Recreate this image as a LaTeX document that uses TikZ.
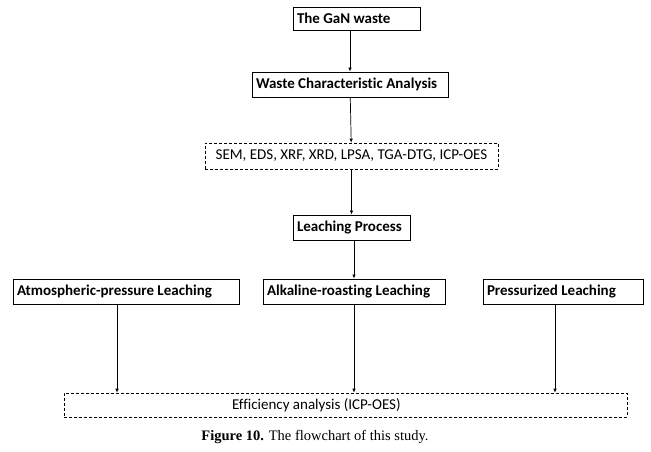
\documentclass[tikz,border=0pt]{standalone}
\usepackage{fontspec}
\setmainfont{Carlito}[Ligatures=NoCommon]
\newfontfamily\capfont{Liberation Serif}
\usepackage{tikz}
\usetikzlibrary{arrows.meta}
\tikzstyle{stepbox}=[rectangle,draw=black,line width=0.9pt,minimum height=25pt,inner xsep=4pt,inner ysep=2pt,align=flush left,font=\fontsize{15}{17}\selectfont\bfseries]
\tikzstyle{testbox}=[rectangle,draw=black,line width=0.6pt,dash pattern=on 3pt off 2pt,minimum height=26pt,inner sep=2pt,font=\fontsize{15}{17}\selectfont]
\tikzstyle{flow}=[line width=0.7pt,-{Latex[length=4pt,width=3.5pt]}]

\begin{document}
\begin{tikzpicture}[x=1pt,y=-1pt]
        \useasboundingbox (0,0) rectangle (651,452);
        \node at (356.5,18.5) [stepbox,text width=119pt,minimum height=23pt] (gan) {The GaN waste};
        \node at (350,84.5)   [stepbox,text width=188pt] (waste) {Waste Characteristic Analysis};
        \node at (351.5,156)  [testbox,minimum width=293pt] (sem) {SEM, EDS, XRF, XRD, LPSA, TGA-DTG, ICP-OES};
        \node at (351.5,227.5) [stepbox,text width=109pt] (leach) {Leaching Process};
        \node at (126,291.5)  [stepbox,text width=218pt] (atm) {Atmospheric-pressure Leaching};
        \node at (354,291.5)  [stepbox,text width=174pt] (alk) {Alkaline-roasting Leaching};
        \node at (563,291.5)  [stepbox,text width=152pt] (prs) {Pressurized Leaching};
        \node at (345.5,405)  [testbox,align=flush left,inner xsep=168pt,text width=227pt,minimum height=24pt] (eff) {Efficiency analysis (ICP-OES)};
        \node at (315,437) [font=\capfont\fontsize{14.5}{16}\selectfont] (cap) {\textbf{Figure 10.} The flowchart of this study.};

        \draw [flow] (gan.south -| waste.north) -- (waste.north);
        \draw [flow] (waste) -- (sem);
        \draw [flow] (sem) -- (leach);
        \draw [flow] (leach.south -| alk.north) -- (alk.north);
        \draw [flow] ([xshift=-9pt]atm.south) -- ([xshift=-9pt]atm.south |- eff.north);
        \draw [flow] (alk.south) -- (alk.south |- eff.north);
        \draw [flow] ([xshift=-8pt]prs.south) -- ([xshift=-8pt]prs.south |- eff.north);
      \end{tikzpicture}
\end{document}
